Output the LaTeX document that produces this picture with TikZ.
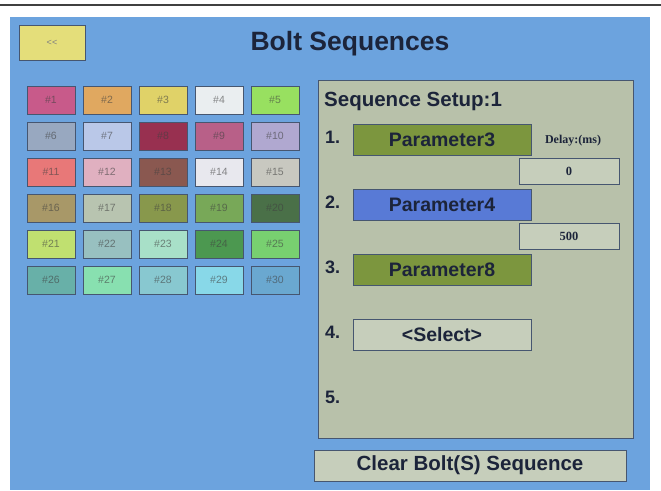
\documentclass[tikz,border=0pt]{standalone}
\usepackage{fontspec}
\setmainfont{Liberation Sans}
\newfontfamily\serifbold{Liberation Serif}
\definecolor{screenblue}{RGB}{108,163,222}
\definecolor{edge}{RGB}{70,86,112}
\definecolor{panelfill}{RGB}{184,193,170}
\definecolor{lightbtn}{RGB}{198,206,187}
\definecolor{olivebtn}{RGB}{124,150,62}
\definecolor{bluebtn}{RGB}{88,122,214}
\definecolor{backbtn}{RGB}{228,222,122}
\definecolor{titletext}{RGB}{28,36,58}
\definecolor{c1}{RGB}{200,90,138}
\definecolor{c2}{RGB}{224,168,96}
\definecolor{c3}{RGB}{224,210,104}
\definecolor{c4}{RGB}{234,238,240}
\definecolor{c5}{RGB}{152,224,96}
\definecolor{c6}{RGB}{152,168,192}
\definecolor{c7}{RGB}{186,200,232}
\definecolor{c8}{RGB}{152,48,80}
\definecolor{c9}{RGB}{184,96,136}
\definecolor{c10}{RGB}{176,168,208}
\definecolor{c11}{RGB}{232,120,120}
\definecolor{c12}{RGB}{224,176,192}
\definecolor{c13}{RGB}{138,88,80}
\definecolor{c14}{RGB}{232,232,238}
\definecolor{c15}{RGB}{200,200,192}
\definecolor{c16}{RGB}{168,152,104}
\definecolor{c17}{RGB}{184,196,176}
\definecolor{c18}{RGB}{136,152,76}
\definecolor{c19}{RGB}{120,168,88}
\definecolor{c20}{RGB}{74,112,72}
\definecolor{c21}{RGB}{192,224,112}
\definecolor{c22}{RGB}{152,192,192}
\definecolor{c23}{RGB}{168,224,200}
\definecolor{c24}{RGB}{76,152,80}
\definecolor{c25}{RGB}{120,208,112}
\definecolor{c26}{RGB}{104,176,168}
\definecolor{c27}{RGB}{136,224,176}
\definecolor{c28}{RGB}{136,200,208}
\definecolor{c29}{RGB}{136,216,232}
\definecolor{c30}{RGB}{106,168,208}
\begin{document}
\begin{tikzpicture}[x=1pt,y=-1pt,
  tile/.style={draw=edge, line width=0.9pt, minimum width=48pt, minimum height=28pt,
    inner sep=0pt, text=black!75, text opacity=0.6,
    font=\fontsize{10.5}{10.5}\selectfont},
  btn/.style={draw=edge, line width=1pt, inner sep=0pt, text=titletext,
    font=\bfseries\fontsize{19.5}{19.5}\selectfont},
  parambtn/.style={btn, minimum width=178pt, minimum height=31pt},
  delaybox/.style={draw=edge, line width=1pt, fill=lightbtn, minimum width=100pt,
    minimum height=26pt, inner sep=0pt, text=titletext,
    font=\serifbold\bfseries\fontsize{12.5}{12.5}\selectfont},
  numlabel/.style={anchor=base west, inner sep=0pt, text=titletext,
    font=\bfseries\fontsize{18}{18}\selectfont}
]
\useasboundingbox (0,0) rectangle (661,490);
\fill[white] (0,0) rectangle (661,490);
\draw[black!75, line width=2pt] (0,4.5) -- (661,4.5);
\fill[screenblue] (10,17) rectangle (650,490);

% back button and title
\node[btn, fill=backbtn, minimum width=66pt, minimum height=35pt,
  font=\fontsize{9}{9}\selectfont, text=black!50] (back) at (52,42.5) {{<}{<}};
\node[anchor=base, inner sep=0pt, text=titletext,
  font=\bfseries\fontsize{26.5}{26.5}\selectfont] (title) at (350,50) {Bolt Sequences};

% colour tiles
\foreach \n [count=\i from 0] in {1,...,30} {
  \pgfmathtruncatemacro{\col}{mod(\i,5)}
  \pgfmathtruncatemacro{\row}{\i/5}
  \node[tile, fill=c\n] (t\n) at ({51+56*\col},{100+36*\row}) {\#\n};
}

% sequence panel
\node[draw=edge, line width=1pt, fill=panelfill, minimum width=315pt,
  minimum height=358pt, inner sep=0pt] (panel) at (475.5,259) {};
\node[anchor=base west, inner sep=0pt, text=titletext,
  font=\bfseries\fontsize{20.5}{20.5}\selectfont] (setup) at (324,106) {Sequence Setup:1};

\node[numlabel] (n1) at (325,143) {1.};
\node[numlabel] (n2) at (325,208) {2.};
\node[numlabel] (n3) at (325,273) {3.};
\node[numlabel] (n4) at (325,338) {4.};
\node[numlabel] (n5) at (325,403) {5.};

\node[parambtn, fill=olivebtn] (p1) at (442,139.5) {Parameter3};
\node[parambtn, fill=bluebtn] (p2) at (442,204.5) {Parameter4};
\node[parambtn, fill=olivebtn] (p3) at (442,269.5) {Parameter8};
\node[parambtn, fill=lightbtn] (p4) at (442,334.5) {<Select>};

\node[inner sep=0pt, text=titletext,
  font=\serifbold\bfseries\fontsize{12}{12}\selectfont] (delay) at (573,141) {Delay:(ms)};
\node[delaybox] (d1) at (569,171) {0};
\node[delaybox] (d2) at (569,236) {500};

% clear button
\node[btn, fill=lightbtn, minimum width=312pt, minimum height=31pt,
  font=\bfseries\fontsize{20.5}{20.5}\selectfont] (clear) at (470,465.5) {Clear Bolt(S) Sequence};
\end{tikzpicture}
\end{document}
